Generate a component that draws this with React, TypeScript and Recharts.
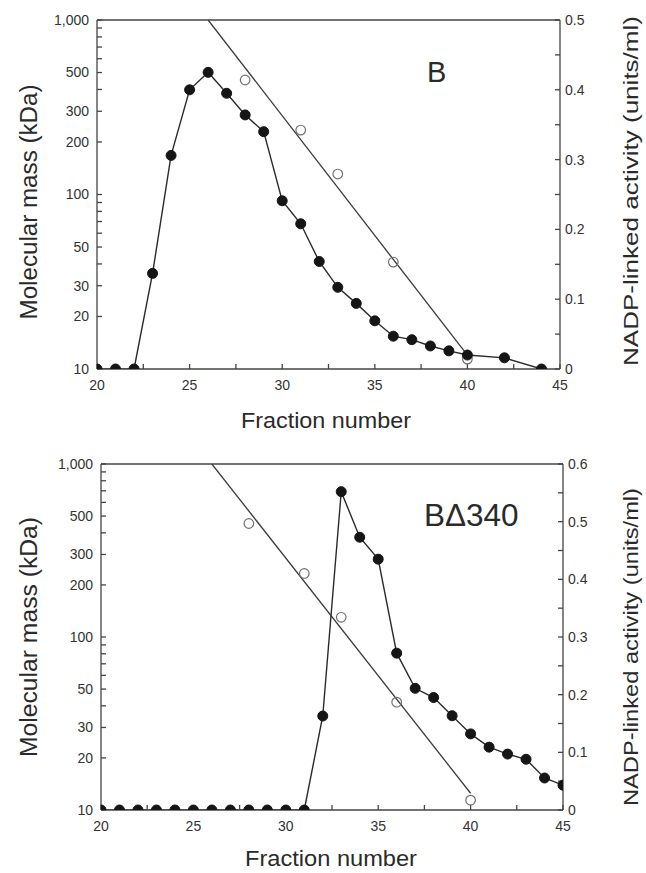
import React from 'react';
import {
  ComposedChart, Line, Scatter, XAxis, YAxis, ReferenceLine,
} from 'recharts';

// ---- Data ----
// Panel B
const fractionsB = [20, 21, 22, 23, 24, 25, 26, 27, 28, 29, 30, 31, 32, 33, 34, 35, 36, 37, 38, 39, 40, 42, 44];
const activityB = [0, 0, 0, 0.137, 0.306, 0.4, 0.425, 0.395, 0.364, 0.34, 0.241, 0.208, 0.154, 0.117, 0.094, 0.069, 0.047, 0.042, 0.033, 0.026, 0.02, 0.016, 0];
const standardFractions = [28, 31, 33, 36, 40];
const standardMassB = [453, 234, 131, 41, 11.4];
const fitFractions = [26, 40];
const fitMassB = [1000, 12];

// Panel BΔ340
const fractionsD = [20, 21, 22, 23, 24, 25, 26, 27, 28, 29, 30, 31, 32, 33, 34, 35, 36, 37, 38, 39, 40, 41, 42, 43, 44, 45];
const activityD = [0, 0, 0, 0, 0, 0, 0, 0, 0, 0, 0, 0, 0.163, 0.552, 0.473, 0.435, 0.272, 0.211, 0.195, 0.1635, 0.132, 0.109, 0.097, 0.088, 0.0555, 0.043];
const standardMassD = [453, 233, 130, 42, 11.4];
const fitMassD = [1000, 12.5];

// Ticks
const xTicks = [20, 22.5, 25, 27.5, 30, 32.5, 35, 37.5, 40, 42.5, 45];
const massTicks = [10, 20, 30, 40, 50, 60, 70, 80, 90, 100, 200, 300, 400, 500, 600, 700, 800, 900, 1000];
const massLabelled = [10, 20, 30, 50, 100, 200, 300, 500, 1000];
const actTicksB = [0, 0.05, 0.1, 0.15, 0.2, 0.25, 0.3, 0.35, 0.4, 0.45, 0.5];
const actTicksD = [0, 0.05, 0.1, 0.15, 0.2, 0.25, 0.3, 0.35, 0.4, 0.45, 0.5, 0.55, 0.6];

const FONT = "'Liberation Sans', Arial, Helvetica, sans-serif";
const INK = '#2a2a2a';
const AXIS = '#444';

const zip = (xs: number[], ys: number[], key: string) => xs.map((x, i) => ({ x, [key]: ys[i] }));

const fmtX = (v: number) => (v % 5 === 0 ? String(v) : '');
const fmtMass = (v: number) => (massLabelled.includes(v) ? (v === 1000 ? '1,000' : String(v)) : '');
const fmtAct = (v: number) => {
  const h = Math.round(v * 100);
  if (h % 10 !== 0) return '';
  return h === 0 ? '0' : (h / 100).toFixed(1);
};

const tickStyle = { fill: '#333', fontSize: 14, fontFamily: FONT };

const openCircle = (p: any) => (
  <circle cx={p.cx} cy={p.cy} r={4.8} fill="none" stroke="#707070" strokeWidth={1.2} />
);

type PanelProps = {
  top: number;
  height: number;
  margin: { top: number; right: number; bottom: number; left: number };
  activity: { x: number; a: number }[];
  standards: { x: number; m: number }[];
  fit: { x: number; m: number }[];
  actTicks: number[];
  actMax: number;
  title: string;
  titleX: number;
  titleY: number;
  titleSize: number;
  leftTitle: { cy: number; len: number };
  rightTitle: { cy: number; len: number };
  xTitle: { cx: number; baseline: number; len: number };
};

function Panel(props: PanelProps) {
  const { top, height, margin, activity, standards, fit, actTicks, actMax, leftTitle, rightTitle, xTitle } = props;
  const off = top;
  return (
    <div style={{ position: 'absolute', left: 0, top, width: 646, height }}>
      <ComposedChart width={646} height={height} margin={margin}>
        <XAxis
          dataKey="x"
          type="number"
          domain={[20, 45]}
          ticks={xTicks}
          interval={0}
          tickFormatter={fmtX}
          tickSize={-5}
          tickMargin={16}
          height={30}
          stroke={AXIS}
          strokeWidth={1.3}
          tick={tickStyle}
          allowDataOverflow
          label={{
            content: () => (
              <text
                x={xTitle.cx}
                y={xTitle.baseline - off}
                textAnchor="middle"
                fontFamily={FONT}
                fontSize={22.5}
                fill={INK}
                textLength={xTitle.len}
                lengthAdjust="spacingAndGlyphs"
              >
                Fraction number
              </text>
            ),
          }}
        />
        <YAxis
          yAxisId="left"
          orientation="left"
          type="number"
          scale="log"
          domain={[10, 1000]}
          ticks={massTicks}
          interval={0}
          tickFormatter={fmtMass}
          tickSize={-5}
          tickMargin={13}
          width={60}
          stroke={AXIS}
          strokeWidth={1.3}
          tick={tickStyle}
          allowDataOverflow
          label={{
            content: () => (
              <text
                x={37}
                y={leftTitle.cy - off}
                transform={`rotate(-90, 37, ${leftTitle.cy - off})`}
                textAnchor="middle"
                fontFamily={FONT}
                fontSize={23}
                fill={INK}
                textLength={leftTitle.len}
                lengthAdjust="spacingAndGlyphs"
              >
                Molecular mass (kDa)
              </text>
            ),
          }}
        />
        <YAxis
          yAxisId="right"
          orientation="right"
          type="number"
          domain={[0, actMax]}
          ticks={actTicks}
          interval={0}
          tickFormatter={fmtAct}
          tickSize={-5}
          tickMargin={10}
          width={60}
          stroke={AXIS}
          strokeWidth={1.3}
          tick={tickStyle}
          allowDataOverflow
          label={{
            content: () => (
              <text
                x={638}
                y={rightTitle.cy - off}
                transform={`rotate(-90, 638, ${rightTitle.cy - off})`}
                textAnchor="middle"
                fontFamily={FONT}
                fontSize={21}
                fill={INK}
                textLength={rightTitle.len}
                lengthAdjust="spacingAndGlyphs"
              >
                NADP-linked activity (units/ml)
              </text>
            ),
          }}
        />
        <ReferenceLine yAxisId="left" y={1000} stroke={AXIS} strokeWidth={1.3} />
        <Line
          yAxisId="left"
          data={fit}
          dataKey="m"
          stroke="#3a3a3a"
          strokeWidth={1.3}
          dot={false}
          activeDot={false}
          isAnimationActive={false}
        />
        <Scatter
          yAxisId="left"
          data={standards}
          dataKey="m"
          shape={openCircle}
          isAnimationActive={false}
        />
        <Line
          yAxisId="right"
          data={activity}
          dataKey="a"
          stroke="#2a2a2a"
          strokeWidth={1.4}
          dot={{ r: 5, fill: '#151515', stroke: '#151515', strokeWidth: 1 }}
          activeDot={false}
          isAnimationActive={false}
        />
      </ComposedChart>
      <div
        style={{
          position: 'absolute',
          left: props.titleX,
          top: props.titleY - top,
          fontFamily: FONT,
          fontSize: props.titleSize,
          color: INK,
          lineHeight: 1,
          whiteSpace: 'nowrap',
        }}
      >
        {props.title}
      </div>
    </div>
  );
}

export default function App() {
  return (
    <div style={{ position: 'absolute', left: 0, top: 0, width: 646, height: 873, background: '#fff' }}>
      <Panel
        top={0}
        height={440}
        margin={{ top: 20, right: 26, bottom: 41, left: 37 }}
        activity={zip(fractionsB, activityB, 'a') as any}
        standards={zip(standardFractions, standardMassB, 'm') as any}
        fit={zip(fitFractions, fitMassB, 'm') as any}
        actTicks={actTicksB}
        actMax={0.5}
        title="B"
        titleX={427}
        titleY={58}
        titleSize={29}
        leftTitle={{ cy: 202, len: 235 }}
        rightTitle={{ cy: 191, len: 350 }}
        xTitle={{ cx: 326, baseline: 428, len: 170 }}
      />
      <Panel
        top={440}
        height={433}
        margin={{ top: 24, right: 23, bottom: 33, left: 41 }}
        activity={zip(fractionsD, activityD, 'a') as any}
        standards={zip(standardFractions, standardMassD, 'm') as any}
        fit={zip(fitFractions, fitMassD, 'm') as any}
        actTicks={actTicksD}
        actMax={0.6}
        title="BΔ340"
        titleX={424}
        titleY={500}
        titleSize={31.5}
        leftTitle={{ cy: 637, len: 240 }}
        rightTitle={{ cy: 647, len: 318 }}
        xTitle={{ cx: 331, baseline: 866, len: 172 }}
      />
    </div>
  );
}
